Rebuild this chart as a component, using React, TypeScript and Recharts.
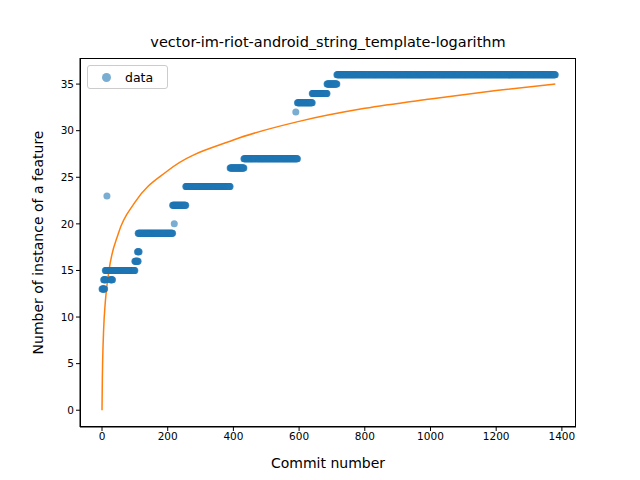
import { ComposedChart, Scatter, Line, XAxis, YAxis } from 'recharts';

// step segments: [fromCommit, toCommit, value]
const segments: [number, number, number][] = [
  [0, 8, 13],
  [5, 12, 14],
  [25, 32, 14],
  [10, 100, 15],
  [100, 110, 16],
  [108, 113, 17],
  [110, 215, 19],
  [215, 255, 22],
  [255, 390, 24],
  [390, 432, 26],
  [432, 595, 27],
  [595, 640, 33],
  [640, 685, 34],
  [685, 715, 35],
  [715, 1380, 36],
];
const outliers: [number, number][] = [
  [15, 23],
  [220, 20],
  [590, 32],
];

const fitX = [0, 1, 2, 5, 10, 20, 50, 100, 200, 400, 600, 800, 1000, 1200, 1380];
const fitY = [0, 3.4, 5.3, 8.7, 11.6, 14.7, 19.0, 22.3, 25.7, 29.0, 31.0, 32.4, 33.4, 34.3, 35.0];

const xTicks = [0, 200, 400, 600, 800, 1000, 1200, 1400];
const yTicks = [0, 5, 10, 15, 20, 25, 30, 35];

const scatterData: { x: number; y: number }[] = [];
segments.forEach(([a, b, v]) => {
  for (let x = a; x <= b; x++) scatterData.push({ x, y: v });
});
outliers.forEach(([x, y]) => scatterData.push({ x, y }));
const fitData = fitX.map((x, i) => ({ x, y: fitY[i] }));

const font = 'DejaVu Sans, sans-serif';
const tick = { fontSize: 10.5, fill: '#000', fontFamily: font };

export default function App() {
  return (
    <div style={{ position: 'fixed', left: 0, top: 0, width: 640, height: 480, background: '#fff', fontFamily: font }}>
      <div style={{ position: 'absolute', top: 34, width: 656, textAlign: 'center', fontSize: 14.5 }}>
        vector-im-riot-android_string_template-logarithm
      </div>
      <ComposedChart width={640} height={480} margin={{ top: 58, right: 64, bottom: 0, left: 0 }}>
        <XAxis
          type="number"
          dataKey="x"
          domain={[-67, 1443]}
          ticks={xTicks}
          allowDataOverflow
          height={53}
          tick={tick}
          tickSize={4}
          stroke="#000"
          label={{ value: 'Commit number', position: 'insideBottom', offset: 12, fontSize: 14, fill: '#000', fontFamily: font }}
        />
        <YAxis
          type="number"
          dataKey="y"
          domain={[-1.8, 37.8]}
          ticks={yTicks}
          allowDataOverflow
          width={80}
          tick={tick}
          tickSize={4}
          stroke="#000"
          label={{ value: 'Number of instance of a feature', angle: -90, position: 'insideLeft', offset: 38, fontSize: 14, fill: '#000', fontFamily: font, style: { textAnchor: 'middle' } }}
        />
        <Scatter data={scatterData} fill="#1f77b4" fillOpacity={0.6} isAnimationActive={false}
          shape={(p: any) => <circle cx={p.cx} cy={p.cy} r={3.5} fill="#1f77b4" fillOpacity={0.6} />} />
        <Line data={fitData} dataKey="y" type="monotone" stroke="#ff7f0e" strokeWidth={1.5} dot={false} isAnimationActive={false} />
      </ComposedChart>
      <div style={{ position: 'absolute', left: 80, top: 58, width: 496, height: 369, border: '1px solid #000', boxSizing: 'border-box', pointerEvents: 'none' }} />
      <div style={{ position: 'absolute', left: 87, top: 65, width: 81, height: 24, border: '1px solid #ccc', borderRadius: 3, background: '#fff', fontSize: 12.5, display: 'flex', alignItems: 'center', boxSizing: 'border-box' }}>
        <span style={{ display: 'inline-block', width: 9, height: 9, borderRadius: 5, background: '#1f77b4', opacity: 0.6, marginLeft: 14, marginRight: 14 }} />
        data
      </div>
    </div>
  );
}
